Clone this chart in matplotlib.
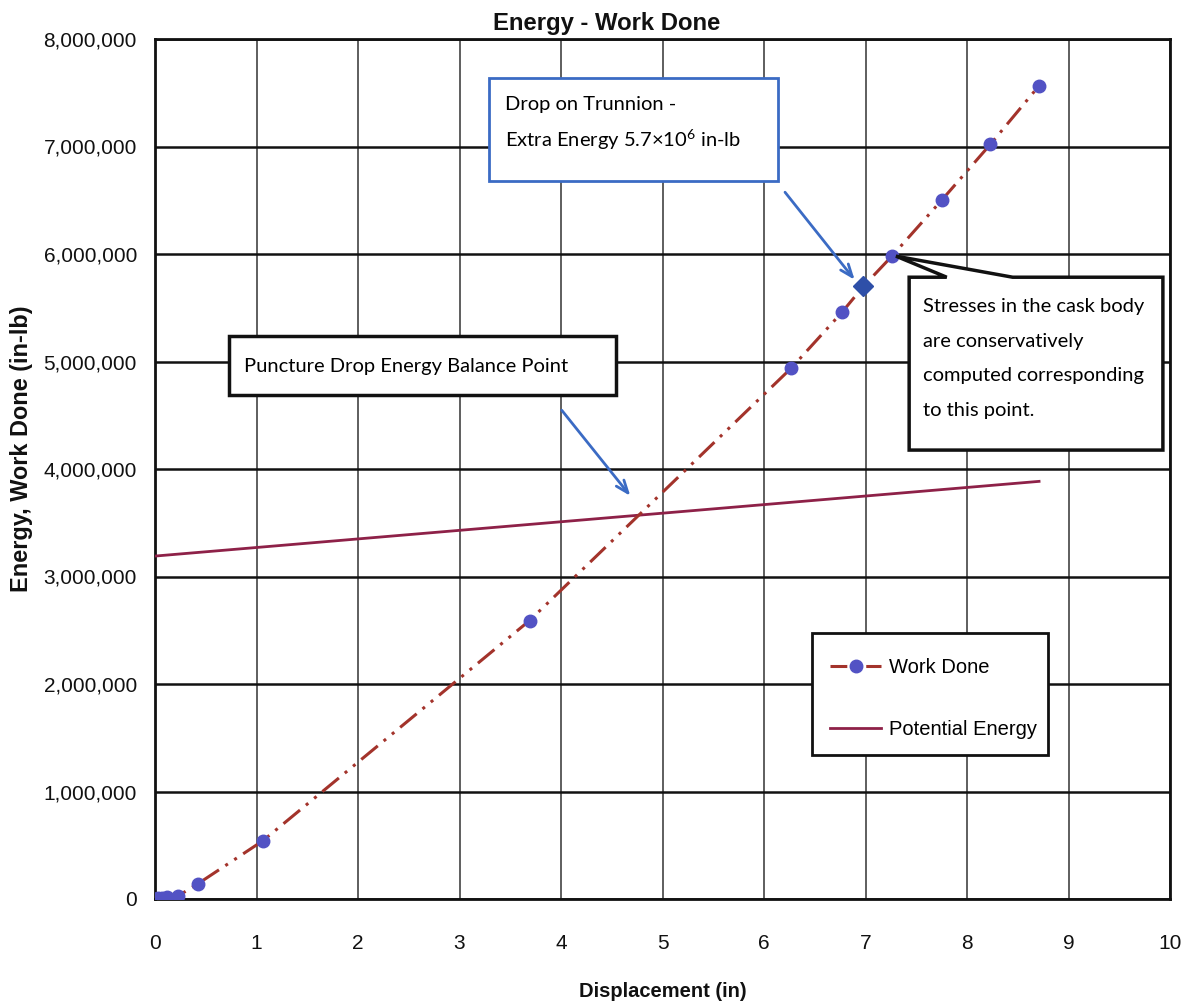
import matplotlib
matplotlib.use("Agg")
import matplotlib.pyplot as plt
from matplotlib.lines import Line2D
from matplotlib.patches import Rectangle, Polygon
from matplotlib.ticker import FuncFormatter

plt.rcParams["font.family"] = ["Liberation Sans", "DejaVu Sans"]
plt.rcParams["mathtext.fontset"] = "custom"
plt.rcParams["mathtext.rm"] = "Lato"
plt.rcParams["mathtext.it"] = "Lato:italic"
plt.rcParams["mathtext.bf"] = "Lato:bold"

# Work done by the impact limiter vs. crush displacement
displacement = [0.0, 0.03, 0.07, 0.12, 0.23, 0.42, 1.06, 3.69,
                6.27, 6.77, 6.98, 7.26, 7.75, 8.23, 8.71]
work_done = [0, 5000, 10000, 20000, 30000, 140000, 540000, 2590000,
             4940000, 5460000, 5700000, 5980000, 6500000, 7020000, 7565000]

# Trunnion drop point (extra energy 5.7e6 in-lb)
trunnion_disp = [6.98]
trunnion_energy = [5700000]

# Potential energy of the puncture drop (linear in displacement)
pe_disp = [0.0, 8.71]
pe_energy = [3190000, 3885000]

# Energy balance point (work done = potential energy)
balance_disp = 4.75
balance_energy = 3565000

# Point used for the cask body stresses
stress_disp = 7.26
stress_energy = 5980000

x_ticks = list(range(0, 11))
y_ticks = list(range(0, 8000001, 1000000))

work_color = "#A3332B"
marker_color = "#5252C4"
pe_color = "#8E2148"
arrow_color = "#3B6BC4"
ink = "#111111"

W, H = 1186, 1006
fig = plt.figure(figsize=(W / 100, H / 100), dpi=100)
ax = fig.add_axes([155 / W, 1 - 899 / H, 1015 / W, 860 / H])

ax.plot(displacement, work_done, color=work_color, lw=2.2,
        linestyle=(0, (7, 2.5, 1, 2.5, 1, 2.5)),
        marker="o", ms=9, mfc=marker_color, mec=marker_color, zorder=4)
ax.plot(trunnion_disp, trunnion_energy, linestyle="none", marker="D", ms=10,
        mfc="#2E4FA8", mec="#2E4FA8", zorder=5)
ax.plot(pe_disp, pe_energy, color=pe_color, lw=2.0, zorder=3)

ax.set_xlim(0, 10)
ax.set_ylim(0, 8000000)
ax.set_xticks(x_ticks)
ax.set_yticks(y_ticks)
ax.yaxis.set_major_formatter(FuncFormatter(lambda v, p: f"{int(v):,}"))
ax.tick_params(axis="both", length=0, labelsize=15, colors=ink)
ax.tick_params(axis="y", pad=13)
ax.tick_params(axis="x", pad=25)

ax.xaxis.grid(True, color="#333333", lw=1.1)
ax.yaxis.grid(True, color=ink, lw=1.8)
ax.set_axisbelow(True)
for s in ax.spines.values():
    s.set_linewidth(2.0)
    s.set_color(ink)

fig.text(607 / W, 1 - 30 / H, "Energy - Work Done", fontsize=17.2,
         fontweight="bold", ha="center", va="baseline", color=ink)
ax.set_xlabel("Displacement (in)", fontsize=14.5, fontweight="bold",
              labelpad=21, color=ink)
ax.set_ylabel("Energy, Work Done (in-lb)", fontsize=16.9, fontweight="bold",
              color=ink)
ax.yaxis.set_label_coords((33 - 155) / 1015, 0.523)

# Legend with a square frame drawn separately
ax.add_patch(Rectangle((0.647, 0.167), 0.233, 0.142, transform=ax.transAxes,
                       fc="white", ec=ink, lw=2.0, zorder=6))
handles = [
    Line2D([], [], color=work_color, lw=2.2, linestyle=(0, (5.5, 6.2)),
           marker="o", ms=9, mfc=marker_color, mec=marker_color),
    Line2D([], [], color=pe_color, lw=2.0),
]
leg = ax.legend(handles, ["Work Done", "Potential Energy"],
                loc="upper left", bbox_to_anchor=(0.665, 0.280),
                fontsize=14.5, frameon=False,
                handlelength=2.55, handletextpad=0.4, labelspacing=2.15,
                borderpad=0, borderaxespad=0)
leg.set_zorder(7)

annot_font = "Lato"
annot_size = 14.5

# Box: drop on trunnion
ax.add_patch(Rectangle((0.329, 0.835), 0.285, 0.1197, transform=ax.transAxes,
                       fc="white", ec=arrow_color, lw=2.0, zorder=6))
ax.text(0.345, 0.9235, "Drop on Trunnion -", transform=ax.transAxes,
        fontsize=annot_size, family=annot_font, va="center", ha="left", zorder=7)
ax.text(0.345, 0.8825, r"Extra Energy 5.7×10$^{\mathrm{6}}$ in-lb", transform=ax.transAxes,
        fontsize=annot_size, family=annot_font, va="center", ha="left", zorder=7)
ax.annotate("", xy=(trunnion_disp[0] - 0.07, trunnion_energy[0] + 40000),
            xytext=(6.19, 6595000),
            arrowprops=dict(arrowstyle="->,head_length=0.9,head_width=0.35",
                            color=arrow_color, lw=2.0), zorder=7)

# Box: energy balance point
ax.add_patch(Rectangle((0.0729, 0.586), 0.381, 0.0687, transform=ax.transAxes,
                       fc="white", ec=ink, lw=2.5, zorder=6))
ax.text(0.0877, 0.6195, "Puncture Drop Energy Balance Point", transform=ax.transAxes,
        fontsize=annot_size, family=annot_font, va="center", ha="left", zorder=7)
ax.annotate("", xy=(balance_disp - 0.05, balance_energy + 165000),
            xytext=(3.99, 4567000),
            arrowprops=dict(arrowstyle="->,head_length=0.9,head_width=0.35",
                            color=arrow_color, lw=2.0), zorder=7)

# Callout: stress evaluation point
box_x0, box_x1, box_y0, box_y1 = 0.743, 0.993, 0.522, 0.723
tip = ax.transLimits.transform((stress_disp, stress_energy))
callout = Polygon([(box_x0, box_y0), (box_x0, box_y1), (0.780, box_y1),
                   (tip[0] + 0.004, tip[1]), (0.845, box_y1),
                   (box_x1, box_y1), (box_x1, box_y0)],
                  closed=True, transform=ax.transAxes, fc="white", ec=ink,
                  lw=2.5, zorder=6, joinstyle="miter")
ax.add_patch(callout)
callout_lines = ["Stresses in the cask body", "are conservatively",
                 "computed corresponding", "to this point."]
for i, line in enumerate(callout_lines):
    ax.text(0.757, 0.6884 - i * 0.0401, line, transform=ax.transAxes,
            fontsize=annot_size, family=annot_font, va="center", ha="left", zorder=7)

fig.savefig("out.png", dpi=100)
